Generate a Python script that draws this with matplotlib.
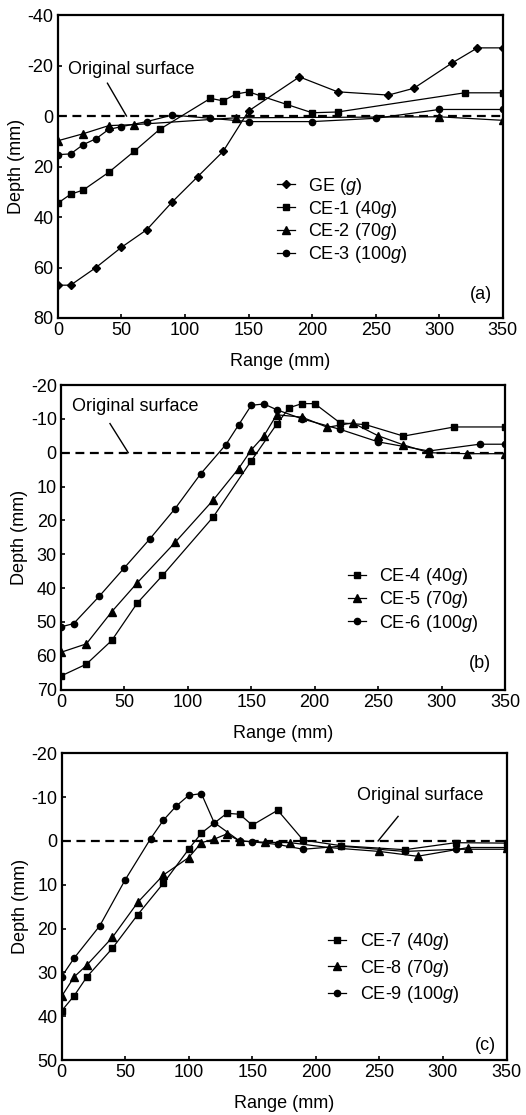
import matplotlib
matplotlib.use("Agg")
from matplotlib import pyplot as plt

plt.rcParams['font.family'] = ['Liberation Sans', 'DejaVu Sans']
plt.rcParams['mathtext.fontset'] = 'custom'
plt.rcParams['mathtext.it'] = 'Liberation Sans:italic'
plt.rcParams['mathtext.rm'] = 'Liberation Sans'
plt.rcParams['axes.unicode_minus'] = False
plt.rcParams['font.size'] = 13

# ---- panel (a) ----
ge_x = [0, 10, 30, 50, 70, 90, 110, 130, 150, 190, 220, 260, 280, 310, 330, 350]
ge_y = [67, 67, 60, 52, 45, 34, 24, 14, -2, -15.5, -9.6, -8.3, -11, -21, -27, -27]
ce1_x = [0, 10, 20, 40, 60, 80, 120, 130, 140, 150, 160, 180, 200, 220, 320, 350]
ce1_y = [34.5, 31, 29.3, 22.3, 14, 5.3, -7, -6, -8.7, -9.6, -7.9, -4.6, -1.3, -1.6, -9.2, -9.2]
ce2_x = [0, 20, 40, 60, 140, 300, 350]
ce2_y = [9.8, 7, 3.8, 3.4, 0.7, 0.3, 1.7]
ce3_x = [0, 10, 20, 30, 40, 50, 70, 90, 120, 150, 200, 250, 300, 350]
ce3_y = [15.3, 15, 11.3, 9, 5.3, 4.2, 2.2, -0.4, 0.9, 2.2, 2.2, 0.9, -2.6, -2.6]

# ---- panel (b) ----
ce4_x = [0, 20, 40, 60, 80, 120, 150, 170, 180, 190, 200, 220, 240, 270, 310, 350]
ce4_y = [66, 62.5, 55.5, 44.5, 36.3, 19, 2.4, -8.4, -13.3, -14.5, -14.5, -8.8, -8.3, -4.9, -7.6, -7.6]
ce5_x = [0, 20, 40, 60, 90, 120, 140, 150, 160, 170, 190, 210, 230, 250, 270, 290, 320, 350]
ce5_y = [59, 56.5, 47, 38.5, 26.5, 14, 4.7, -0.8, -5, -11.2, -10.5, -7.5, -8.8, -5, -2.3, 0, 0.3, 0.3]
ce6_x = [0, 10, 30, 50, 70, 90, 110, 130, 140, 150, 160, 170, 190, 220, 250, 290, 330, 350]
ce6_y = [51.5, 50.5, 42.5, 34, 25.5, 16.5, 6.3, -2.4, -8.2, -14, -14.4, -12.7, -10, -6.9, -3.2, -0.5, -2.5, -2.5]

# ---- panel (c) ----
ce7_x = [0, 10, 20, 40, 60, 80, 100, 110, 130, 140, 150, 170, 190, 220, 270, 310, 350]
ce7_y = [38.8, 35.3, 31, 24.5, 16.8, 9.7, 1.9, -1.8, -6.3, -6.1, -3.6, -7, -0.2, 1.1, 2.0, 0.4, 0.5]
ce8_x = [0, 10, 20, 40, 60, 80, 100, 110, 120, 130, 140, 160, 180, 210, 250, 280, 320, 350]
ce8_y = [35.5, 31, 28.3, 22, 14, 7.8, 3.8, 0.4, -0.4, -1.6, 0, 0.3, 0.4, 1.5, 2.4, 3.5, 1.5, 1.5]
ce9_x = [0, 10, 30, 50, 70, 80, 90, 100, 110, 120, 140, 150, 170, 190, 220, 270, 310, 350]
ce9_y = [31, 26.7, 19.4, 8.9, -0.5, -4.7, -7.9, -10.4, -10.8, -4.2, 0, 0.2, 0.8, 1.9, 1.2, 2.4, 1.9, 1.9]

x_ticks = [0, 50, 100, 150, 200, 250, 300, 350]


def draw_panel(ax, series, ylim, ystep, tag, tag_pos, legend_pos, note_xy, note_line, spacing):
    """Draw one depth profile panel."""
    # original surface line
    ax.plot([0, 350], [0, 0], color='k', lw=1.6, dashes=(4, 2.5), zorder=1)
    for xs, ys, marker, ms, label in series:
        ax.plot(xs, ys, color='k', lw=0.9, marker=marker, markersize=ms, label=label, zorder=3)
    ax.set_xlim(0, 350)
    ax.set_ylim(ylim[1], ylim[0])
    ax.set_xticks(x_ticks)
    ax.set_yticks(list(range(ylim[0], ylim[1] + 1, ystep)))
    ax.tick_params(direction='in', length=3, width=1.2, labelsize=13, pad=3, top=False, right=False)
    for s in ax.spines.values():
        s.set_linewidth(1.6)
    ax.set_xlabel('Range (mm)', fontsize=13, labelpad=10)
    ax.set_ylabel('Depth (mm)', fontsize=13, labelpad=2)
    ax.text(tag_pos[0], tag_pos[1], tag, transform=ax.transAxes, ha='right', va='center', fontsize=13)
    ax.text(note_xy[0], note_xy[1], 'Original surface', ha='left', va='center', fontsize=13)
    ax.plot(note_line[0], note_line[1], color='k', lw=1.0)
    ax.legend(loc='center left', bbox_to_anchor=legend_pos, frameon=False, borderpad=0,
              borderaxespad=0, handlelength=1.0, handletextpad=0.75, labelspacing=spacing,
              fontsize=13)


fig = plt.figure(figsize=(5.26, 11.15), dpi=100)
ax_a = fig.add_axes([0.110, 0.7148, 0.846, 0.2717])
ax_b = fig.add_axes([0.116, 0.3816, 0.844, 0.2731])
ax_c = fig.add_axes([0.117, 0.0493, 0.846, 0.2751])

draw_panel(ax_a,
           [(ge_x, ge_y, 'D', 4.5, r'GE ($\mathit{g}$)'),
            (ce1_x, ce1_y, 's', 4.5, r'CE-1 (40$\mathit{g}$)'),
            (ce2_x, ce2_y, '^', 5.5, r'CE-2 (70$\mathit{g}$)'),
            (ce3_x, ce3_y, 'o', 4.5, r'CE-3 (100$\mathit{g}$)')],
           (-40, 80), 20, '(a)', (0.975, 0.076), (0.492, 0.322),
           (8, -18.6), ([39, 54], [-13, 0]), 0.1)

draw_panel(ax_b,
           [(ce4_x, ce4_y, 's', 4.5, r'CE-4 (40$\mathit{g}$)'),
            (ce5_x, ce5_y, '^', 5.5, r'CE-5 (70$\mathit{g}$)'),
            (ce6_x, ce6_y, 'o', 4.5, r'CE-6 (100$\mathit{g}$)')],
           (-20, 70), 10, '(b)', (0.968, 0.087), (0.646, 0.294),
           (8.7, -13.6), ([38.6, 53], [-8.6, 0]), 0.12)

draw_panel(ax_c,
           [(ce7_x, ce7_y, 's', 4.5, r'CE-7 (40$\mathit{g}$)'),
            (ce8_x, ce8_y, '^', 5.5, r'CE-8 (70$\mathit{g}$)'),
            (ce9_x, ce9_y, 'o', 4.5, r'CE-9 (100$\mathit{g}$)')],
           (-20, 50), 10, '(c)', (0.977, 0.049), (0.599, 0.299),
           (232, -10.3), ([264.7, 249], [-5.6, 0]), 0.3)

fig.savefig('out.png', dpi=100)
